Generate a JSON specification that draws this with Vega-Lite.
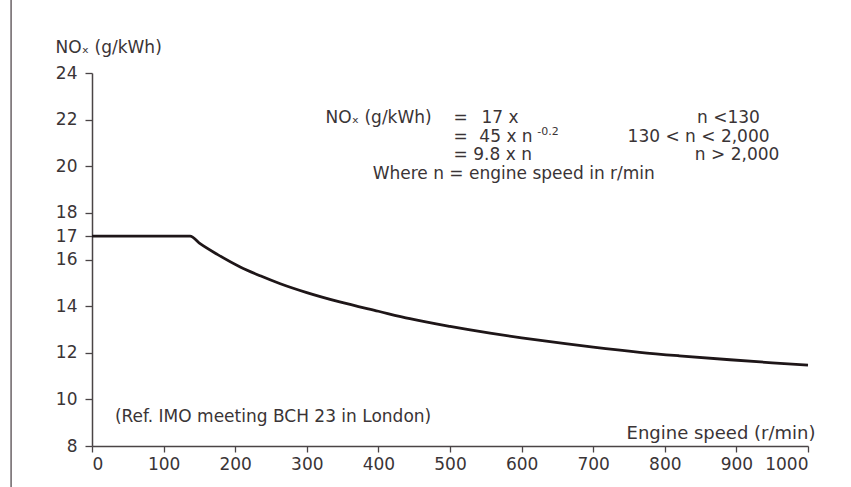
{
  "$schema": "https://vega.github.io/schema/vega-lite/v6.json",
  "autosize": {"type": "none"},
  "width": 716,
  "height": 373,
  "padding": {"left": 92, "top": 73, "right": 43, "bottom": 41},
  "background": "white",
  "config": {
    "view": {"stroke": null},
    "font": "DejaVu Sans",
    "axis": {
      "domainColor": "#4a4446",
      "domainWidth": 1.5,
      "tickColor": "#4a4446",
      "tickWidth": 1.3,
      "labelFont": "DejaVu Sans",
      "labelFontSize": 17,
      "labelColor": "#3a3436",
      "titleFont": "DejaVu Sans",
      "titleFontSize": 17,
      "titleFontWeight": "normal",
      "titleColor": "#3a3436",
      "grid": false
    }
  },
  "datasets": {
    "curve": [
      {"n": 0, "nox": 17},
      {"n": 137, "nox": 17},
      {"n": 151, "nox": 16.68},
      {"n": 175, "nox": 16.22},
      {"n": 207, "nox": 15.68},
      {"n": 235, "nox": 15.3},
      {"n": 263, "nox": 14.96},
      {"n": 300, "nox": 14.58},
      {"n": 346, "nox": 14.18},
      {"n": 400, "nox": 13.78},
      {"n": 444, "nox": 13.46},
      {"n": 500, "nox": 13.13},
      {"n": 556, "nox": 12.84},
      {"n": 600, "nox": 12.64},
      {"n": 661, "nox": 12.39},
      {"n": 700, "nox": 12.24},
      {"n": 765, "nox": 12.02},
      {"n": 820, "nox": 11.87},
      {"n": 891, "nox": 11.7},
      {"n": 950, "nox": 11.57},
      {"n": 1000, "nox": 11.47}
    ],
    "notes": [
      {"n": 326, "nox": 22.06, "label": "NOₓ (g/kWh)"},
      {"n": 505, "nox": 22.06, "label": "="},
      {"n": 544, "nox": 22.06, "label": "17 x"},
      {"n": 845, "nox": 22.06, "label": "n <130"},
      {"n": 505, "nox": 21.24, "label": "="},
      {"n": 541, "nox": 21.24, "label": "45 x n"},
      {"n": 748, "nox": 21.24, "label": "130 < n < 2,000"},
      {"n": 505, "nox": 20.47, "label": "= 9.8 x n"},
      {"n": 842, "nox": 20.47, "label": "n > 2,000"},
      {"n": 392, "nox": 19.66, "label": "Where n = engine speed in r/min"},
      {"n": 32, "nox": 9.23, "label": "(Ref. IMO meeting BCH 23 in London)"}
    ],
    "sup": [
      {"n": 622, "nox": 21.45, "label": "-0.2"}
    ],
    "border": [
      {"n": -113, "top": 27.2, "bottom": 6.2}
    ]
  },
  "layer": [
    {
      "data": {"name": "curve"},
      "mark": {"type": "line", "color": "#1e1618", "strokeWidth": 2.8, "interpolate": "monotone"},
      "encoding": {
        "x": {
          "field": "n", "type": "quantitative",
          "scale": {"domain": [0, 1000], "nice": false},
          "axis": {
            "values": [0, 100, 200, 300, 400, 500, 600, 700, 800, 900, 1000],
            "format": "d",
            "tickSize": 6,
            "labelPadding": 4,
            "title": "Engine speed (r/min)",
            "titleFontSize": 18,
            "titleAlign": "right",
            "titleAnchor": null,
            "titleX": 723,
            "titleY": -13,
            "titleBaseline": "middle"
          }
        },
        "y": {
          "field": "nox", "type": "quantitative",
          "scale": {"domain": [8, 24], "nice": false, "zero": false},
          "axis": {
            "values": [8, 10, 12, 14, 16, 17, 18, 20, 22, 24],
            "tickSize": 7,
            "labelPadding": 8,
            "title": "NOₓ (g/kWh)",
            "titleAngle": 0,
            "titleAlign": "left",
            "titleAnchor": null,
            "titleX": -37,
            "titleY": -26,
            "titleBaseline": "middle"
          }
        }
      }
    },
    {
      "data": {"name": "notes"},
      "mark": {"type": "text", "align": "left", "baseline": "middle", "font": "DejaVu Sans", "fontSize": 17, "color": "#3a3436"},
      "encoding": {
        "x": {"field": "n", "type": "quantitative"},
        "y": {"field": "nox", "type": "quantitative"},
        "text": {"field": "label"}
      }
    },
    {
      "data": {"name": "sup"},
      "mark": {"type": "text", "align": "left", "baseline": "middle", "font": "DejaVu Sans", "fontSize": 11, "color": "#3a3436"},
      "encoding": {
        "x": {"field": "n", "type": "quantitative"},
        "y": {"field": "nox", "type": "quantitative"},
        "text": {"field": "label"}
      }
    },
    {
      "data": {"name": "border"},
      "mark": {"type": "rule", "color": "#6a6266", "strokeWidth": 1.5, "clip": false},
      "encoding": {
        "x": {"field": "n", "type": "quantitative"},
        "y": {"field": "top", "type": "quantitative"},
        "y2": {"field": "bottom"}
      }
    }
  ]
}
